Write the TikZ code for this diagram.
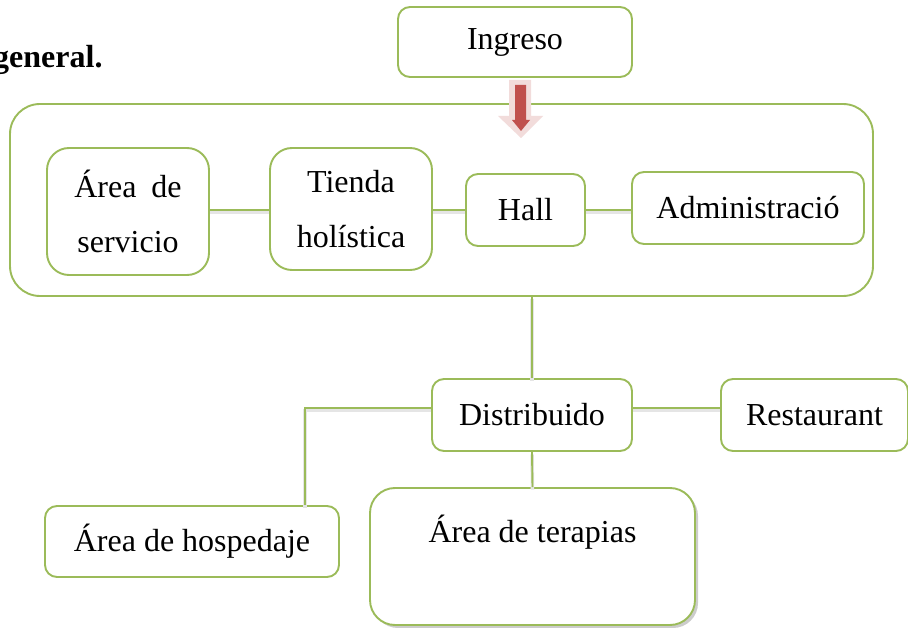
\documentclass[tikz,border=0pt]{standalone}
\usepackage{fontspec}
\setmainfont{Liberation Serif}
\usetikzlibrary{shadows}
\definecolor{verde}{HTML}{9BBB59}
\definecolor{rojo}{HTML}{C0504D}
\definecolor{rosa}{HTML}{F2DCDB}
\begin{document}
\begin{tikzpicture}[x=1pt, y=-1pt,
	caja/.style={draw=verde, line width=1.9pt, fill=white, rounded corners=12pt, inner sep=0pt, font=\fontsize{32}{55}\selectfont, align=center},
	conector/.style={draw=verde, line width=1.9pt, preaction={draw=black!10, line width=3.5pt, transform canvas={yshift=-2.5pt}}}]
		\useasboundingbox (0,0) rectangle (908,628);
		\node [anchor=base west, inner sep=0pt, font=\fontsize{32}{38}\bfseries\selectfont] (titulo) at (-7,68) {general.};
		\node [caja, rounded corners=30pt, minimum width=863pt, minimum height=192pt] (contenedor) at (441.5,200) {};
		\node [caja, minimum width=234pt, minimum height=70pt] (ingreso) at (515,42) {Ingreso};
		\node [caja, rounded corners=22pt, minimum width=162pt, minimum height=127pt] (servicio) at (128,211.5) {Área\hspace{7pt} de\\servicio};
		\node [caja, rounded corners=22pt, minimum width=162pt, minimum height=122pt] (tienda) at (351,209) {Tienda\\holística};
		\node [caja, minimum width=119pt, minimum height=72pt] (hall) at (525.5,210) {Hall};
		\node [caja, minimum width=232pt, minimum height=72pt] (admin) at (748,208) {Administració};
		\node [caja, minimum width=200pt, minimum height=72pt] (distribuido) at (532,415) {Distribuido};
		\node [caja, minimum width=187pt, minimum height=72pt] (restaurant) at (814.5,415) {Restaurant};
		\node [caja, minimum width=294pt, minimum height=71pt] (hospedaje) at (192,541.5) {Área de hospedaje};
		\node [caja, rounded corners=25pt, minimum width=325pt, minimum height=137pt, drop shadow={shadow xshift=3pt, shadow yshift=-3pt, opacity=.4}] (terapias) at (532.5,556.5) {Área de terapias\\ \mbox{}};
		% flecha de ingreso
		\fill [rosa] (509,80) -- (531,80) -- (531,116) -- (543,116) -- (521,138) -- (498,116) -- (509,116) -- cycle;
		\fill [rojo] (515,85) -- (526,85) -- (526,120) -- (530,120) -- (521,131) -- (512,120) -- (515,120) -- cycle;
		% conectores
		\coordinate (codo) at (305,408);
		\draw [conector] (servicio.east |- hall) -- (tienda.west |- hall);
		\draw [conector] (tienda.east |- hall) -- (hall.west);
		\draw [conector] (hall.east) -- (admin.west |- hall);
		\draw [conector] (distribuido.north |- contenedor.south) -- (distribuido.north);
		\draw [conector] (distribuido.east |- codo) -- (restaurant.west |- codo);
		\draw [conector] (distribuido.west |- codo) -- (codo) -- (codo |- hospedaje.north);
		\draw [conector] (distribuido.south) -- (terapias.north);
	\end{tikzpicture}
\end{document}
